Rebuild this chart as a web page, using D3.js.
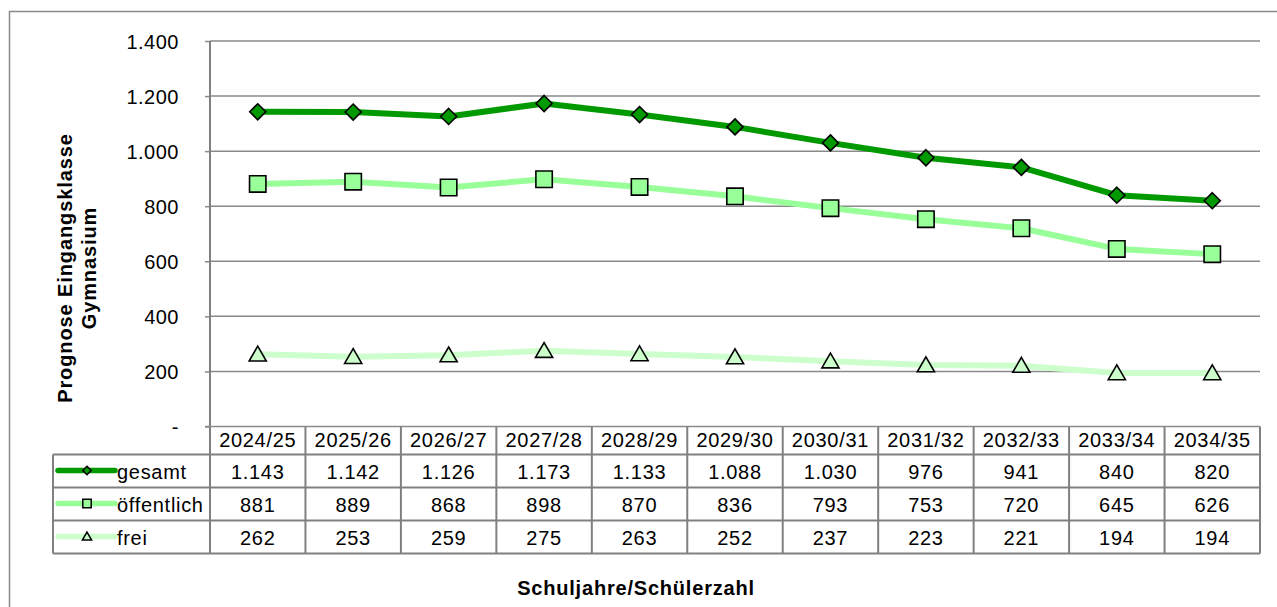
<!DOCTYPE html>
<html><head><meta charset="utf-8">
<script src="https://cdn.jsdelivr.net/npm/d3@7"></script>
<style>body{margin:0;background:#fff}svg{display:block;font-family:"Liberation Sans",Arial,sans-serif}</style>
</head><body><svg id="c" width="1277" height="607"></svg>
<script>
// ---- data ----
const categories = ["2024/25","2025/26","2026/27","2027/28","2028/29","2029/30","2030/31","2031/32","2032/33","2033/34","2034/35"];
const gesamt      = [1143,1142,1126,1173,1133,1088,1030,976,941,840,820];
const oeffentlich = [881,889,868,898,870,836,793,753,720,645,626];
const frei        = [262,253,259,275,263,252,237,223,221,194,194];
const seriesNames = ["gesamt","öffentlich","frei"];
const yTicks = [0,200,400,600,800,1000,1200,1400];
const xTitle = "Schuljahre/Schülerzahl";
const yTitle = ["Prognose Eingangsklasse","Gymnasium"];

// ---- styles ----
const lineColors = ["#009900","#99FF99","#CCFFCC"];
const markerFill = ["#009900","#99FF99","#CCFFCC"];
const markerShape = ["diamond","square","triangle"];
const gridColor = "#8a8a8a";
const tableColor = "#808080";
const FS = 20, LS = 0.7;

const series = seriesNames.map((n,i)=>({name:n, values:[gesamt,oeffentlich,frei][i], i}));

const de = d3.formatLocale({decimal:",", thousands:".", grouping:[3], currency:["","€"]});
const fmt = v => v === 0 ? "-" : de.format(",d")(v);

const svg = d3.select("#c");
const L = 210, R = 1260, T = 41, B = 426.5;
const x = d3.scaleBand().domain(categories).range([L,R]).padding(0);
const y = d3.scaleLinear().domain([0,1400]).range([B,T]);
const rowY = d3.scaleBand().domain(seriesNames).range([454.5,553.5]);

// outer frame
svg.append("path").attr("d","M9.5,607 V11.5 H1277").attr("fill","none").attr("stroke","#8a8a8a").attr("stroke-width",1.5);

// gridlines
svg.append("g").selectAll("line").data(yTicks.filter(d=>d>0)).join("line")
  .attr("x1",L).attr("x2",R).attr("y1",d=>y(d)).attr("y2",d=>y(d))
  .attr("stroke",gridColor).attr("stroke-width",1.5);

// y axis
const yAxis = d3.axisLeft(y).tickValues(yTicks).tickFormat(fmt).tickSize(5).tickPadding(26);
const gy = svg.append("g").attr("transform",`translate(${L},0)`).call(yAxis);
gy.select(".domain").remove();
gy.selectAll(".tick line").attr("stroke",gridColor).attr("stroke-width",1.5);
gy.selectAll(".tick text").attr("font-size",FS).attr("fill","#000").attr("letter-spacing",0.5)
  .attr("font-family","Liberation Sans, Arial, sans-serif").attr("dy","0.35em");
// axis line extended through table
svg.append("line").attr("x1",L).attr("x2",L).attr("y1",T).attr("y2",553.5).attr("stroke",tableColor).attr("stroke-width",2);

// table lines
const tbl = svg.append("g").attr("stroke",tableColor).attr("stroke-width",2);
tbl.append("line").attr("x1",L-5).attr("x2",R).attr("y1",B).attr("y2",B).attr("stroke",gridColor).attr("stroke-width",1.5);
tbl.selectAll(".h").data([454.5, ...seriesNames.map(n=>rowY(n)+rowY.bandwidth())]).join("line")
  .attr("x1",53).attr("x2",R).attr("y1",d=>d).attr("y2",d=>d);
tbl.selectAll(".v").data(categories.slice(1)).join("line")
  .attr("x1",d=>x(d)).attr("x2",d=>x(d)).attr("y1",B).attr("y2",553.5);
tbl.append("line").attr("x1",R).attr("x2",R).attr("y1",B).attr("y2",553.5);
tbl.append("line").attr("x1",53).attr("x2",53).attr("y1",454.5).attr("y2",553.5);

// header text
svg.append("g").selectAll("text").data(categories).join("text")
  .attr("x",d=>x(d)+x.bandwidth()/2).attr("y",447).attr("text-anchor","middle")
  .attr("font-size",FS).attr("letter-spacing",LS).text(d=>d);

// table values
series.forEach(s=>{
  svg.append("g").selectAll("text").data(s.values).join("text")
    .attr("x",(d,j)=>x(categories[j])+x.bandwidth()/2)
    .attr("y",rowY(s.name)+rowY.bandwidth()/2+7.5)
    .attr("text-anchor","middle").attr("font-size",FS).attr("letter-spacing",LS).text(d=>fmt(d));
});

function markerPath(shape, cx, cy, r){
  if(shape==="diamond") return `M${cx},${cy-r} L${cx+r},${cy} L${cx},${cy+r} L${cx-r},${cy} Z`;
  if(shape==="square") return `M${cx-r},${cy-r} H${cx+r} V${cy+r} H${cx-r} Z`;
  return `M${cx},${cy-r*1.05} L${cx+r*1.1},${cy+r*0.85} L${cx-r*1.1},${cy+r*0.85} Z`;
}
const markerR = [8,8.2,7.8];

// lines (draw in reverse so gesamt on top)
const line = d3.line().x((d,j)=>x(categories[j])+x.bandwidth()/2).y(d=>y(d));
[...series].reverse().forEach(s=>{
  svg.append("path").datum(s.values).attr("d",line).attr("fill","none")
    .attr("stroke",lineColors[s.i]).attr("stroke-width",6).attr("stroke-linejoin","round");
});
[...series].reverse().forEach(s=>{
  svg.append("g").selectAll("path").data(s.values).join("path")
    .attr("d",(d,j)=>markerPath(markerShape[s.i], x(categories[j])+x.bandwidth()/2, y(d), markerR[s.i]))
    .attr("fill",markerFill[s.i]).attr("stroke","#000").attr("stroke-width",1.6);
});

// legend keys in table
series.forEach(s=>{
  const cy = rowY(s.name)+rowY.bandwidth()/2 - 0.5;
  svg.append("line").attr("x1",58).attr("x2",115).attr("y1",cy).attr("y2",cy)
    .attr("stroke",lineColors[s.i]).attr("stroke-width",5.5).attr("stroke-linecap","round");
  svg.append("path").attr("d",markerPath(markerShape[s.i],87,cy,4.2))
    .attr("fill",markerFill[s.i]).attr("stroke","#000").attr("stroke-width",1.5);
  svg.append("text").attr("x",117).attr("y",rowY(s.name)+rowY.bandwidth()/2+7.5)
    .attr("font-size",FS).attr("letter-spacing",LS).text(s.name);
});

// titles
svg.append("text").attr("x",636).attr("y",595).attr("text-anchor","middle")
  .attr("font-size",FS).attr("font-weight","bold").attr("letter-spacing",0.8).text(xTitle);
yTitle.forEach((t,k)=>{
  svg.append("text").attr("transform",`translate(${72+k*24},268) rotate(-90)`)
    .attr("text-anchor","middle").attr("font-size",FS).attr("font-weight","bold").attr("letter-spacing",0.9).text(t);
});
</script></body></html>
